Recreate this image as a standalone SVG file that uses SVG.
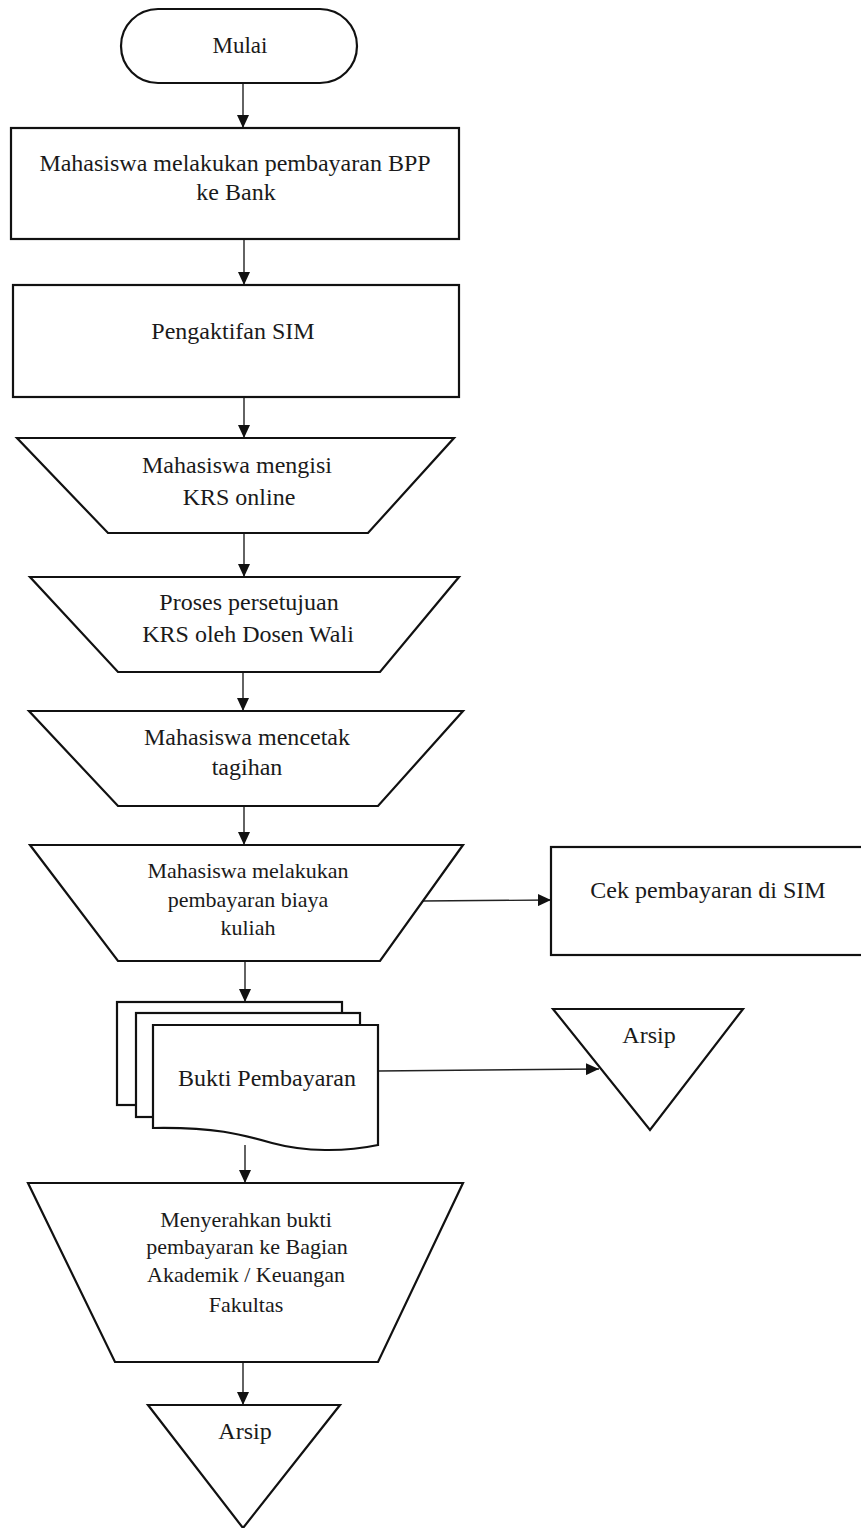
<svg xmlns="http://www.w3.org/2000/svg" width="861" height="1528" viewBox="0 0 861 1528">
<style>
.s{fill:#fff;stroke:#111;stroke-width:2.2;stroke-linejoin:miter}
.c{fill:none;stroke:#222;stroke-width:1.4}
.t{font-family:"Liberation Serif","Times New Roman",serif;fill:#1a1a1a;text-anchor:middle}
.f24{font-size:24px}
.f22{font-size:22px}
</style>
<defs>
<marker id="ah" markerUnits="userSpaceOnUse" markerWidth="14" markerHeight="12" refX="13" refY="6" orient="auto">
<path d="M0,0 L13,6 L0,12 Z" fill="#111"/>
</marker>
</defs>
<rect width="861" height="1528" fill="#fff"/>
<g id="connectors">
<line class="c" x1="243" y1="83" x2="243" y2="128" marker-end="url(#ah)"/>
<line class="c" x1="244" y1="239" x2="244" y2="285" marker-end="url(#ah)"/>
<line class="c" x1="244" y1="397" x2="244" y2="438" marker-end="url(#ah)"/>
<line class="c" x1="244" y1="533" x2="244" y2="577" marker-end="url(#ah)"/>
<line class="c" x1="243" y1="672" x2="243" y2="711" marker-end="url(#ah)"/>
<line class="c" x1="244" y1="806" x2="244" y2="845" marker-end="url(#ah)"/>
<line class="c" x1="422" y1="901" x2="551" y2="900" marker-end="url(#ah)"/>
<line class="c" x1="245" y1="961" x2="245" y2="1002" marker-end="url(#ah)"/>
<line class="c" x1="378" y1="1071" x2="599" y2="1069" marker-end="url(#ah)"/>
<line class="c" x1="245" y1="1145" x2="245" y2="1183" marker-end="url(#ah)"/>
<line class="c" x1="243" y1="1362" x2="243" y2="1405" marker-end="url(#ah)"/>
</g>
<g id="mulai">
<rect class="s" x="121" y="9" width="236" height="74" rx="37" ry="37"/>
<text class="t" x="240" y="53" font-size="23">Mulai</text>
</g>
<g id="bayar-bpp">
<rect class="s" x="11" y="128" width="448" height="111"/>
<text class="t f24" x="235" y="171">Mahasiswa melakukan pembayaran BPP</text>
<text class="t f24" x="236" y="200">ke Bank</text>
</g>
<g id="pengaktifan">
<rect class="s" x="13" y="285" width="446" height="112"/>
<text class="t f24" x="233" y="339">Pengaktifan SIM</text>
</g>
<g id="isi-krs">
<polygon class="s" points="17,438 454,438 368,533 108,533"/>
<text class="t f24" x="237" y="473">Mahasiswa mengisi</text>
<text class="t f24" x="239" y="505">KRS online</text>
</g>
<g id="persetujuan">
<polygon class="s" points="30,577 459,577 380,672 118,672"/>
<text class="t f24" x="249" y="610">Proses persetujuan</text>
<text class="t f24" x="248" y="642">KRS oleh Dosen Wali</text>
</g>
<g id="cetak-tagihan">
<polygon class="s" points="29,711 463,711 378,806 118,806"/>
<text class="t f24" x="247" y="745">Mahasiswa mencetak</text>
<text class="t f24" x="247" y="775">tagihan</text>
</g>
<g id="bayar-kuliah">
<polygon class="s" points="30,845 463,845 380,961 118,961"/>
<text class="t f22" x="248" y="878">Mahasiswa melakukan</text>
<text class="t f22" x="248" y="907">pembayaran biaya</text>
<text class="t f22" x="248" y="935">kuliah</text>
</g>
<g id="cek-sim">
<rect class="s" x="551" y="847" width="330" height="108"/>
<text class="t f24" x="708" y="898">Cek pembayaran di SIM</text>
</g>
<g id="bukti">
<rect class="s" x="117" y="1002" width="225" height="103"/>
<rect class="s" x="136" y="1013" width="224" height="104"/>
<path class="s" d="M153,1025 L378,1025 L378,1145 C345,1152 305,1152 272,1143 C240,1134 215,1127 153,1128 Z"/>
<text class="t f24" x="267" y="1086">Bukti Pembayaran</text>
</g>
<g id="arsip-1">
<polygon class="s" points="553,1009 743,1009 650,1130"/>
<text class="t f24" x="649" y="1043">Arsip</text>
</g>
<g id="serahkan">
<polygon class="s" points="28,1183 463,1183 378,1362 115,1362"/>
<text class="t f22" x="246" y="1227">Menyerahkan bukti</text>
<text class="t f22" x="247" y="1254">pembayaran ke Bagian</text>
<text class="t f22" x="246" y="1282">Akademik / Keuangan</text>
<text class="t f22" x="246" y="1312">Fakultas</text>
</g>
<g id="arsip-2">
<polygon class="s" points="148,1405 340,1405 243,1528"/>
<text class="t f24" x="245" y="1439">Arsip</text>
</g>
</svg>
